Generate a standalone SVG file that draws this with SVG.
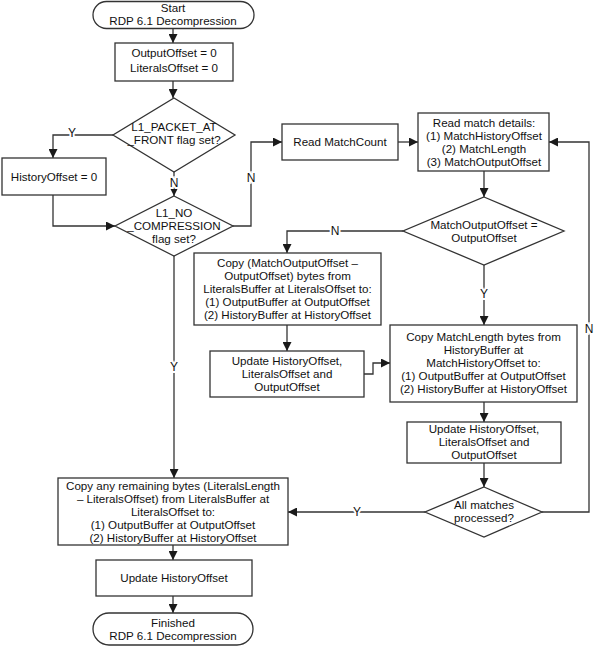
<svg xmlns="http://www.w3.org/2000/svg" width="616" height="648" viewBox="0 0 616 648">
<defs>
<marker id="arr" viewBox="0 0 10 10" refX="10" refY="5" markerWidth="9" markerHeight="9" markerUnits="userSpaceOnUse" orient="auto">
<path d="M0,0 L10,5 L0,10 z" fill="#1a1a1a"/>
</marker>
<style>
.box{fill:#fff;stroke:#333;stroke-width:1.3}
.t{font-family:"Liberation Sans",Arial,sans-serif;font-size:11.6px;fill:#111;text-anchor:middle}
.c{fill:none;stroke:#333;stroke-width:1.3;marker-end:url(#arr)}
.lbl{font-family:"Liberation Sans",Arial,sans-serif;font-size:12px;fill:#111;text-anchor:middle;stroke:#fff;stroke-width:4;paint-order:stroke}
</style>
</defs>
<rect width="616" height="648" fill="#fff"/>
<g id="connectors">
<path class="c" d="M173,28 V43"/>
<path class="c" d="M173,81 V98"/>
<path class="c" d="M113,135 H53 V158"/>
<path class="c" d="M174,172 V196"/>
<path class="c" d="M53,195 V226 H115"/>
<path class="c" d="M233,226 H251 V142 H282"/>
<path class="c" d="M398,142 H418"/>
<path class="c" d="M484,171 V197"/>
<path class="c" d="M403,231 H287 V253"/>
<path class="c" d="M287,325 V351"/>
<path class="c" d="M364,374 H373 V363 H390"/>
<path class="c" d="M484,265 V325"/>
<path class="c" d="M484,402 V422"/>
<path class="c" d="M484,463 V487"/>
<path class="c" d="M425,512 H288"/>
<path class="c" d="M542,512 H589 V142 H549"/>
<path class="c" d="M174,256 V478"/>
<path class="c" d="M173,545 V560"/>
<path class="c" d="M173,596 V613"/>
<text class="lbl" x="72" y="137">Y</text>
<text class="lbl" x="174" y="187">N</text>
<text class="lbl" x="251" y="182">N</text>
<text class="lbl" x="335" y="235">N</text>
<text class="lbl" x="484" y="298">Y</text>
<text class="lbl" x="589" y="333">N</text>
<text class="lbl" x="357" y="516">Y</text>
<text class="lbl" x="174" y="371">Y</text>
</g>
<g id="start">
<rect class="box" x="93" y="1.5" width="161" height="27" rx="13.5"/>
<text class="t" x="173" y="12">Start</text>
<text class="t" x="173" y="25">RDP 6.1 Decompression</text>
</g>
<g id="init">
<rect class="box" x="115" y="43" width="118" height="38"/>
<text class="t" x="174" y="57">OutputOffset = 0</text>
<text class="t" x="174" y="72">LiteralsOffset = 0</text>
</g>
<g id="d1">
<polygon class="box" points="174,98 235,135 174,172 113,135"/>
<text class="t" x="174" y="131">L1_PACKET_AT</text>
<text class="t" x="174" y="144">_FRONT flag set?</text>
</g>
<g id="historyzero">
<rect class="box" x="2" y="158" width="104" height="37"/>
<text class="t" x="54" y="181">HistoryOffset = 0</text>
</g>
<g id="d2">
<polygon class="box" points="174,196 233,226 174,256 115,226"/>
<text class="t" x="174" y="217">L1_NO</text>
<text class="t" x="174" y="230">_COMPRESSION</text>
<text class="t" x="174" y="243">flag set?</text>
</g>
<g id="readcount">
<rect class="box" x="282" y="124" width="116" height="36"/>
<text class="t" x="340" y="146">Read MatchCount</text>
</g>
<g id="readdetails">
<rect class="box" x="418" y="113" width="131" height="58"/>
<text class="t" x="484" y="127">Read match details:</text>
<text class="t" x="484" y="140">(1) MatchHistoryOffset</text>
<text class="t" x="484" y="153">(2) MatchLength</text>
<text class="t" x="484" y="166">(3) MatchOutputOffset</text>
</g>
<g id="d3">
<polygon class="box" points="484,197 564,231 484,265 403,231"/>
<text class="t" x="484" y="229">MatchOutputOffset =</text>
<text class="t" x="484" y="242">OutputOffset</text>
</g>
<g id="copyliterals">
<rect class="box" x="194" y="253" width="187" height="72"/>
<text class="t" x="287.5" y="267">Copy (MatchOutputOffset –</text>
<text class="t" x="287.5" y="280">OutputOffset) bytes from</text>
<text class="t" x="287.5" y="293">LiteralsBuffer at LiteralsOffset to:</text>
<text class="t" x="287.5" y="306">(1) OutputBuffer at OutputOffset</text>
<text class="t" x="287.5" y="319">(2) HistoryBuffer at HistoryOffset</text>
</g>
<g id="update1">
<rect class="box" x="210" y="351" width="154" height="46"/>
<text class="t" x="287" y="365">Update HistoryOffset,</text>
<text class="t" x="287" y="378">LiteralsOffset and</text>
<text class="t" x="287" y="391">OutputOffset</text>
</g>
<g id="copymatch">
<rect class="box" x="390" y="325" width="187" height="77"/>
<text class="t" x="483.5" y="341">Copy MatchLength bytes from</text>
<text class="t" x="483.5" y="354">HistoryBuffer at</text>
<text class="t" x="483.5" y="367">MatchHistoryOffset to:</text>
<text class="t" x="483.5" y="380">(1) OutputBuffer at OutputOffset</text>
<text class="t" x="483.5" y="393">(2) HistoryBuffer at HistoryOffset</text>
</g>
<g id="update2">
<rect class="box" x="407" y="422" width="154" height="41"/>
<text class="t" x="484" y="433">Update HistoryOffset,</text>
<text class="t" x="484" y="446">LiteralsOffset and</text>
<text class="t" x="484" y="459">OutputOffset</text>
</g>
<g id="d4">
<polygon class="box" points="484,487 542,512 484,537 425,512"/>
<text class="t" x="484" y="509">All matches</text>
<text class="t" x="484" y="522">processed?</text>
</g>
<g id="copyremaining">
<rect class="box" x="58" y="478" width="230" height="67"/>
<text class="t" x="173" y="490">Copy any remaining bytes (LiteralsLength</text>
<text class="t" x="173" y="503">– LiteralsOffset) from LiteralsBuffer at</text>
<text class="t" x="173" y="516">LiteralsOffset to:</text>
<text class="t" x="173" y="529">(1) OutputBuffer at OutputOffset</text>
<text class="t" x="173" y="542">(2) HistoryBuffer at HistoryOffset</text>
</g>
<g id="update3">
<rect class="box" x="96" y="560" width="156" height="36"/>
<text class="t" x="174" y="582">Update HistoryOffset</text>
</g>
<g id="finished">
<rect class="box" x="93" y="613" width="160" height="32" rx="16"/>
<text class="t" x="173" y="627">Finished</text>
<text class="t" x="173" y="640">RDP 6.1 Decompression</text>
</g>
</svg>
